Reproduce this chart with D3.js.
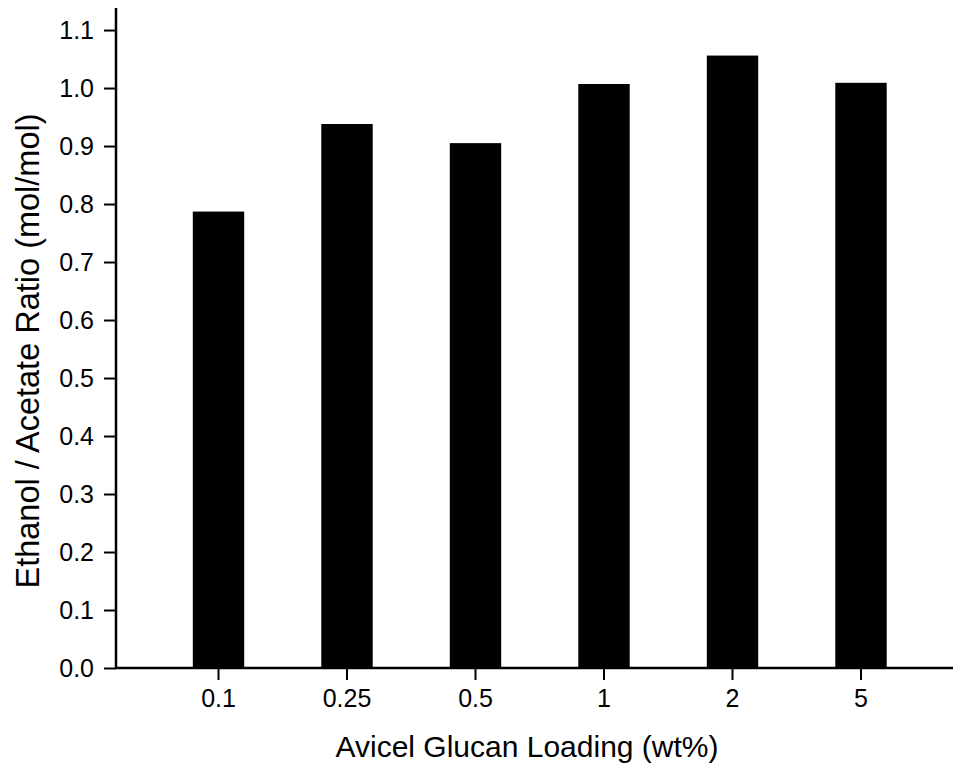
<!DOCTYPE html>
<html>
<head>
<meta charset="utf-8">
<script src="https://cdn.jsdelivr.net/npm/d3@7"></script>
<style>
  body { margin: 0; background: #fff; }
  text { font-family: "Liberation Sans", Arial, sans-serif; fill: #000; }
</style>
</head>
<body>
<svg id="chart"></svg>
<script>
const loadings = ['0.1', '0.25', '0.5', '1', '2', '5'];
const ratios = [0.787, 0.938, 0.905, 1.007, 1.056, 1.009];
const yTicks = [0.0, 0.1, 0.2, 0.3, 0.4, 0.5, 0.6, 0.7, 0.8, 0.9, 1.0, 1.1];

(function() {
  const svgDim = { w: 953, h: 766 },
    plot = { left: 116, right: 953, top: 8, bottom: 668 },
    $svg = d3.select('#chart')
      .attr('width', svgDim.w)
      .attr('height', svgDim.h);

  const xScale = d3.scaleBand()
      .domain(loadings)
      .range([154.25, 925.25])
      .paddingInner(0.6)
      .paddingOuter(0.3),
    yScale = d3.scaleLinear()
      .domain([0, 1.138])
      .range([plot.bottom, plot.top]);

  // bars
  $svg.append('g')
    .selectAll('rect')
    .data(ratios)
    .enter()
    .append('rect')
    .attr('x', (d, i) => xScale(loadings[i]))
    .attr('width', xScale.bandwidth())
    .attr('y', (d) => yScale(d))
    .attr('height', (d) => yScale(0) - yScale(d))
    .attr('fill', '#000');

  // y axis
  const $yAxis = $svg.append('g')
    .attr('transform', 'translate(' + plot.left + ',0)')
    .call(d3.axisLeft(yScale)
      .tickValues(yTicks)
      .tickFormat(d3.format('.1f'))
      .tickSize(12)
      .tickPadding(10));
  $yAxis.select('.domain').remove();
  $yAxis.selectAll('.tick line').attr('stroke', '#000').attr('stroke-width', 2);
  $yAxis.selectAll('.tick text')
    .attr('font-size', 25)
    .attr('font-family', '"Liberation Sans", Arial, sans-serif');
  $svg.append('line')
    .attr('x1', plot.left).attr('x2', plot.left)
    .attr('y1', plot.top).attr('y2', plot.bottom + 1)
    .attr('stroke', '#000').attr('stroke-width', 2.5);

  // x axis
  const $xAxis = $svg.append('g')
    .attr('transform', 'translate(0,' + plot.bottom + ')')
    .call(d3.axisBottom(xScale)
      .tickSize(12)
      .tickPadding(9));
  $xAxis.select('.domain').remove();
  $xAxis.selectAll('.tick line').attr('stroke', '#000').attr('stroke-width', 2);
  $xAxis.selectAll('.tick text')
    .attr('font-size', 25)
    .attr('font-family', '"Liberation Sans", Arial, sans-serif');
  $svg.append('line')
    .attr('x1', plot.left - 1).attr('x2', plot.right)
    .attr('y1', plot.bottom).attr('y2', plot.bottom)
    .attr('stroke', '#000').attr('stroke-width', 2.5);

  // axis titles
  $svg.append('text')
    .text('Avicel Glucan Loading (wt%)')
    .attr('text-anchor', 'middle')
    .attr('font-size', 30)
    .attr('x', 527)
    .attr('y', 757);
  $svg.append('text')
    .text('Ethanol / Acetate Ratio (mol/mol)')
    .attr('text-anchor', 'middle')
    .attr('font-size', 32.5)
    .attr('transform', 'translate(39, 351) rotate(-90)');
})();
</script>
</body>
</html>
